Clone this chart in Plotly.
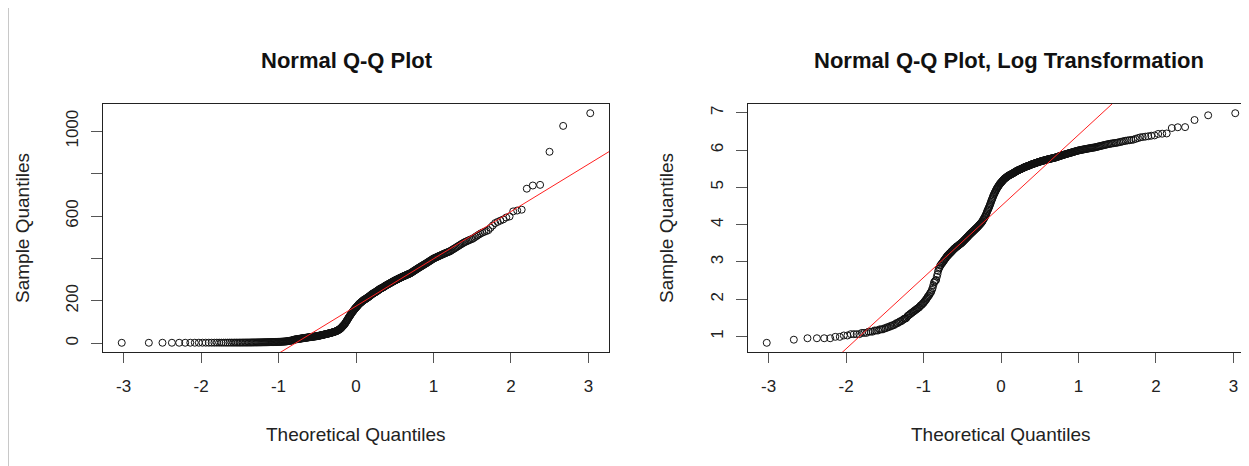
import statistics
import numpy as np
import plotly.graph_objects as go

# Sorted sample values, n = 400
sample = [
    2.3, 2.5, 2.6, 2.6, 2.6, 2.6, 2.7, 2.7, 2.8, 2.8,
    2.9, 2.9, 2.9, 2.9, 3.0, 3.0, 3.0, 3.1, 3.1, 3.1,
    3.2, 3.2, 3.2, 3.3, 3.3, 3.3, 3.4, 3.4, 3.5, 3.5,
    3.6, 3.6, 3.7, 3.7, 3.8, 3.9, 3.9, 4.0, 4.1, 4.1,
    4.2, 4.3, 4.4, 4.4, 4.5, 4.7, 4.8, 4.9, 5.0, 5.1,
    5.2, 5.3, 5.4, 5.5, 5.6, 5.7, 5.8, 5.9, 6.0, 6.2,
    6.3, 6.4, 6.6, 6.7, 6.9, 7.1, 7.3, 7.5, 7.8, 8.0,
    8.2, 8.5, 8.8, 9.0, 9.5, 10.0, 10.8, 11.6, 11.9, 12.2,
    12.4, 13.5, 14.5, 15.8, 16.8, 17.4, 18.2, 18.5, 19.1, 19.5,
    19.9, 20.5, 20.9, 21.5, 22.0, 22.4, 23.1, 23.6, 23.8, 24.3,
    24.8, 25.3, 25.5, 26.0, 26.6, 26.8, 27.4, 27.9, 28.2, 28.8,
    29.1, 29.4, 30.0, 30.3, 30.6, 30.9, 31.2, 31.8, 32.1, 32.5,
    32.8, 33.1, 33.8, 34.1, 34.6, 35.2, 35.7, 36.2, 36.8, 37.3,
    37.9, 38.5, 39.0, 39.6, 40.2, 40.9, 41.5, 42.1, 42.6, 43.3,
    43.8, 44.4, 45.0, 45.6, 46.2, 46.9, 47.5, 48.1, 48.8, 49.4,
    50.1, 50.7, 51.4, 52.2, 53.0, 53.8, 54.6, 55.4, 56.3, 57.1,
    58.0, 59.1, 60.3, 62.2, 63.4, 64.7, 66.7, 68.0, 70.1, 72.2,
    74.4, 77.5, 79.8, 82.3, 84.8, 87.4, 90.0, 93.7, 96.5, 100.5,
    104.6, 107.8, 111.0, 115.6, 119.1, 122.7, 126.5, 129.7, 132.9, 137.0,
    140.5, 144.0, 146.9, 149.9, 152.9, 156.0, 159.2, 162.4, 164.9, 167.3,
    169.9, 172.4, 175.0, 177.7, 180.4, 183.1, 185.9, 187.8, 189.6, 191.5,
    193.5, 195.4, 197.4, 199.3, 201.3, 203.4, 204.4, 206.5, 207.5, 208.5,
    210.6, 211.7, 213.8, 214.9, 217.0, 218.1, 220.3, 221.4, 223.6, 225.9,
    227.0, 229.3, 231.6, 232.8, 234.0, 235.1, 237.5, 238.7, 239.8, 241.0,
    242.3, 244.7, 245.9, 247.2, 249.6, 250.9, 252.1, 254.7, 256.0, 257.3,
    258.6, 259.9, 261.2, 262.5, 263.8, 265.1, 266.4, 267.7, 270.4, 271.8,
    273.1, 274.5, 275.9, 277.3, 278.7, 280.1, 281.5, 282.9, 284.3, 285.7,
    287.1, 288.6, 290.0, 291.5, 292.9, 294.4, 295.9, 297.1, 298.3, 299.8,
    301.0, 302.2, 303.7, 304.9, 306.1, 307.7, 308.9, 310.1, 311.4, 312.9,
    314.2, 315.4, 316.7, 318.0, 318.9, 320.2, 321.5, 322.8, 324.1, 325.4,
    326.3, 327.6, 328.9, 330.3, 332.3, 334.3, 336.3, 338.0, 340.0, 342.1,
    344.1, 346.2, 347.9, 350.0, 352.1, 354.2, 356.0, 358.1, 359.9, 362.1,
    363.9, 366.1, 367.9, 370.1, 372.0, 374.2, 376.0, 378.3, 380.6, 382.9,
    385.2, 387.6, 389.9, 392.2, 394.6, 397.0, 399.4, 401.0, 403.0, 404.6,
    406.7, 408.3, 410.4, 412.0, 414.1, 415.7, 417.8, 419.9, 421.6, 423.7,
    425.4, 427.5, 429.2, 431.4, 432.6, 435.6, 438.7, 441.8, 444.9, 448.0,
    451.2, 454.8, 458.0, 461.7, 464.9, 468.7, 472.0, 475.8, 478.6, 481.5,
    484.4, 487.4, 490.3, 492.7, 497.7, 502.7, 507.8, 512.9, 518.0, 522.2,
    525.8, 529.5, 533.7, 544.6, 555.6, 566.8, 572.5, 578.2, 584.0, 593.0,
    598.0, 622.0, 626.0, 630.0, 729.0, 744.0, 747.0, 903.0, 1025.0, 1085.0,
]

titles = ["Normal Q-Q Plot", "Normal Q-Q Plot, Log Transformation"]
x_label = "Theoretical Quantiles"
y_label = "Sample Quantiles"
x_ticks = [-3, -2, -1, 0, 1, 2, 3]
x_ticktext = ["-3", "-2", "-1", "0", "1", "2", "3"]
y1_ticks = [0, 200, 400, 600, 800, 1000]
y1_ticktext = ["0", "200", "", "600", "", "1000"]
y2_ticks = [1, 2, 3, 4, 5, 6, 7]
y2_ticktext = ["1", "2", "3", "4", "5", "6", "7"]

# ---- Q-Q computations (as qqnorm / qqline do) ----
nd = statistics.NormalDist()
y_raw = np.array(sample, dtype=float)
y_log = np.log(y_raw)
n = len(y_raw)
theo = np.array([nd.inv_cdf((i - 0.5) / n) for i in range(1, n + 1)])


def qq_line(y):
    q1, q3 = np.quantile(y, [0.25, 0.75])
    z1, z3 = nd.inv_cdf(0.25), nd.inv_cdf(0.75)
    slope = (q3 - q1) / (z3 - z1)
    return q1 - slope * z1, slope


def ext_range(v):
    lo, hi = float(np.min(v)), float(np.max(v))
    d = 0.04 * (hi - lo)
    return [lo - d, hi + d]


# The page body adds an 8px margin; work in screen pixels and subtract it.
OFF = 8
SW, SH = 1249, 466
W, H = SW - OFF, SH - OFF
FONT = "Liberation Sans, Arial, sans-serif"
TXT = "#222222"
TICKC = "#555555"


def px(x):
    return (x - OFF) / W


def py(y):
    return (H - (y - OFF)) / H


# plot-region geometry (screen pixels)
L1, R1 = 103, 609
L2 = 748
TOP, BOT = 104, 352
plot_w = R1 - L1

xr1 = ext_range(theo)
xr2_end = xr1[0] + (SW - L2) / plot_w * (xr1[1] - xr1[0])
xr2 = [xr1[0], xr2_end]
yr1 = ext_range(y_raw)
yr2 = ext_range(y_log)

line_x = np.array([-5.0, 5.0])
a1, b1 = qq_line(y_raw)
a2, b2 = qq_line(y_log)

fig = go.Figure()
marker = dict(symbol="circle-open", size=7, color="#111111", line=dict(width=1, color="#111111"))
fig.add_trace(go.Scatter(x=theo, y=y_raw, mode="markers", marker=marker, xaxis="x", yaxis="y",
                         showlegend=False, cliponaxis=False))
fig.add_trace(go.Scatter(x=line_x, y=a1 + b1 * line_x, mode="lines", line=dict(color="#ff2020", width=1),
                         xaxis="x", yaxis="y", showlegend=False))
fig.add_trace(go.Scatter(x=theo, y=y_log, mode="markers", marker=marker, xaxis="x2", yaxis="y2",
                         showlegend=False, cliponaxis=False))
fig.add_trace(go.Scatter(x=line_x, y=a2 + b2 * line_x, mode="lines", line=dict(color="#ff2020", width=1),
                         xaxis="x2", yaxis="y2", showlegend=False))

ydom = [py(BOT), py(TOP)]
common_x = dict(tickmode="array", tickvals=x_ticks, ticktext=x_ticktext, ticks="outside", ticklen=10,
                tickcolor=TICKC, tickwidth=1, showgrid=False, zeroline=False, showline=True,
                linecolor="#222222", linewidth=1, mirror=True, automargin=False,
                tickfont=dict(family=FONT, size=17, color=TXT), ticklabelstandoff=9)
common_y = dict(tickmode="array", ticks="outside", ticklen=11, tickcolor=TICKC, tickwidth=1,
                showgrid=False, zeroline=False, showline=True, linecolor="#222222", linewidth=1,
                automargin=False, tickangle=-90,
                tickfont=dict(family=FONT, size=17, color=TXT), ticklabelstandoff=6)

fig.update_layout(
    width=W, height=H,
    margin=dict(l=0, r=0, t=0, b=0, autoexpand=False),
    paper_bgcolor="white", plot_bgcolor="white",
    xaxis=dict(domain=[px(L1), px(R1)], range=xr1, anchor="y", **common_x),
    yaxis=dict(domain=ydom, range=yr1, anchor="x", tickvals=y1_ticks, ticktext=y1_ticktext,
               mirror=True, **common_y),
    xaxis2=dict(domain=[px(L2), 1.0], range=xr2, anchor="y2", **common_x),
    yaxis2=dict(domain=ydom, range=yr2, anchor="x2", tickvals=y2_ticks, ticktext=y2_ticktext,
                mirror=False, **common_y),
    showlegend=False,
)

ann = []
for cx, t in zip([347, 1009], titles):
    ann.append(dict(x=px(cx), y=py(60), xref="paper", yref="paper", text="<b>" + t + "</b>",
                    showarrow=False, xanchor="center", yanchor="middle",
                    font=dict(family=FONT, size=22, color="#111111")))
for cx in [(L1 + R1) / 2, (L2 + L2 + plot_w) / 2]:
    ann.append(dict(x=px(cx), y=py(434), xref="paper", yref="paper", text=x_label,
                    showarrow=False, xanchor="center", yanchor="middle",
                    font=dict(family=FONT, size=19, color=TXT)))
for cx in [22, 666]:
    ann.append(dict(x=px(cx), y=py((TOP + BOT) / 2), xref="paper", yref="paper", text=y_label,
                    showarrow=False, xanchor="center", yanchor="middle", textangle=-90,
                    font=dict(family=FONT, size=19, color=TXT)))
fig.update_layout(annotations=ann)

# thin grey screenshot border at the far left
fig.add_shape(type="line", xref="paper", yref="paper", x0=0.5 / W, x1=0.5 / W, y0=0, y1=1,
              line=dict(color="#c8c8c8", width=1))

fig.write_html("out.html")
